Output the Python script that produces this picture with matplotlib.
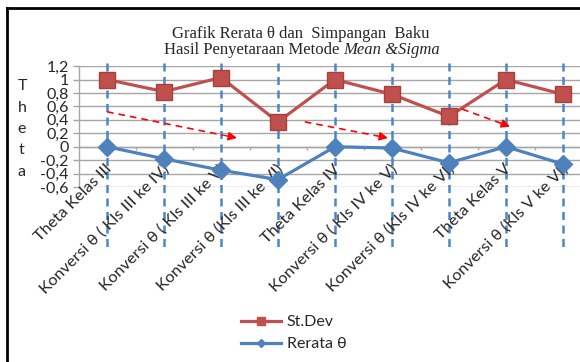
import matplotlib
matplotlib.use("Agg")
import matplotlib.pyplot as plt
from matplotlib.lines import Line2D

# Categories and the two series
categories = [
    "Theta Kelas III",
    "Konversi θ ( Kls III ke IV)",
    "Konversi θ ( Kls III ke V)",
    "Konversi θ (Kls III ke VI)",
    "Theta Kelas IV",
    "Konversi θ ( Kls IV ke V)",
    "Konversi θ (Kls IV ke VI)",
    "Theta Kelas V",
    "Konversi θ (Kls V ke VI)",
]
st_dev = [1.00, 0.82, 1.03, 0.37, 1.00, 0.78, 0.45, 1.00, 0.78]
rerata = [0.00, -0.18, -0.35, -0.49, 0.00, -0.02, -0.24, 0.00, -0.26]

y_ticks = [-0.6, -0.4, -0.2, 0, 0.2, 0.4, 0.6, 0.8, 1.0, 1.2]
y_tick_labels = ["-0,6", "-0,4", "-0,2", "0", "0,2", "0,4", "0,6", "0,8", "1", "1,2"]

# Red trend arrows drawn over the chart: (x0, y0, x1, y1)
trend_arrows = [
    (0.00, 0.52, 2.28, 0.13),
    (3.47, 0.37, 4.93, 0.13),
    (6.23, 0.56, 7.07, 0.30),
]

RED = "#C0504D"
RED_EDGE = "#A5403D"
BLUE = "#4F81BD"
GUIDE_BLUE = "#4A86C8"
GRID = "#A6A6A6"
TXT = "#262626"
SANS = ["Lato", "DejaVu Sans"]
SERIF = ["Liberation Serif", "DejaVu Serif"]

W, H = 580, 362
fig = plt.figure(figsize=(W / 100, H / 100), dpi=100)
fig.patch.set_facecolor("white")

# plot area (extends past the right edge of the figure)
x_left, x_right = 78.5, 591.5
y_top, y_bot = 66.1, 187.0
ax = fig.add_axes([x_left / W, 1 - y_bot / H, (x_right - x_left) / W, (y_bot - y_top) / H])
ax.set_xlim(-0.5, len(categories) - 0.5)
ax.set_ylim(-0.6, 1.2)

for s in ("top", "right", "bottom"):
    ax.spines[s].set_visible(False)
ax.spines["left"].set_color(GRID)
ax.spines["left"].set_linewidth(1.0)

ax.set_yticks(y_ticks)
ax.set_yticklabels(y_tick_labels, fontfamily=SANS, fontsize=11.5, color=TXT)
ax.tick_params(axis="y", length=4, color=GRID, width=1.0, pad=3)
ax.yaxis.grid(True, color=GRID, linewidth=1.0)
ax.set_axisbelow(True)

# category axis crossing at zero, with ticks between categories
ax.set_xticks([])
ax.axhline(0, color=GRID, linewidth=1.0, zorder=1)
bounds = [i + 0.5 for i in range(len(categories) - 1)]
ax.vlines(bounds, -0.055, 0, color=GRID, linewidth=1.0, zorder=1)

# category labels hang from the zero axis
for i, lab in enumerate(categories):
    ax.annotate(lab, xy=(i, 0), xytext=(3, -20), textcoords="offset pixels",
                rotation=45, rotation_mode="anchor", ha="right", va="center",
                fontfamily=SANS, fontsize=11.8, color=TXT, annotation_clip=False)

# vertical dashed guide lines at each category
for i in range(len(categories)):
    ax.plot([i, i], [1.245, -1.54], color=GUIDE_BLUE, linewidth=1.8,
            linestyle=(0, (3.2, 2.2)), clip_on=False, zorder=2)

# series
x = list(range(len(categories)))
ax.plot(x, st_dev, color=RED, linewidth=2.3, marker="s", markersize=11.5,
        markerfacecolor=RED, markeredgecolor=RED_EDGE, markeredgewidth=1.0,
        zorder=5, clip_on=False)
ax.plot(x, rerata, color=BLUE, linewidth=2.3, marker="D", markersize=9.5,
        markerfacecolor=BLUE, markeredgecolor=BLUE, zorder=5, clip_on=False)

# red dashed trend arrows
for x0, y0, x1, y1 in trend_arrows:
    fx = x0 + (x1 - x0) * 0.88
    fy = y0 + (y1 - y0) * 0.88
    ax.plot([x0, fx], [y0, fy], color="red", linewidth=1.2,
            linestyle=(0, (4, 3)), zorder=6)
    ax.annotate("", xy=(x1, y1), xytext=(fx, fy),
                arrowprops=dict(arrowstyle="-|>", color="red", lw=1.0,
                                mutation_scale=13, shrinkA=0, shrinkB=0),
                zorder=6)

# vertical axis title, one letter per line
fig.text(22 / W, 1 - 129 / H, "T\nh\ne\nt\na", ha="center", va="center",
         fontfamily=SANS, fontsize=11.5, color=TXT, linespacing=1.68)

# chart title (second line mixes upright and italic)
fig.text(301 / W, 1 - 34 / H, "Grafik Rerata θ dan  Simpangan  Baku",
         ha="center", va="center", fontfamily=SERIF, fontsize=12, color=TXT)
renderer = fig.canvas.get_renderer()
t_reg = fig.text(0, 1 - 50 / H, "Hasil Penyetaraan Metode ", ha="left", va="center",
                 fontfamily=SERIF, fontsize=12, color=TXT)
t_it = fig.text(0, 1 - 50 / H, "Mean &Sigma", ha="left", va="center",
                fontfamily=SERIF, fontsize=12, style="italic", color=TXT)
w_reg = t_reg.get_window_extent(renderer).width
w_it = t_it.get_window_extent(renderer).width
start = 302 - (w_reg + w_it) / 2
t_reg.set_x(start / W)
t_it.set_x((start + w_reg) / W)

# legend
handles = [
    Line2D([], [], color=RED, linewidth=2.3, marker="s", markersize=6,
           markerfacecolor=RED, markeredgecolor=RED),
    Line2D([], [], color=BLUE, linewidth=2.3, marker="D", markersize=4.5,
           markerfacecolor=BLUE, markeredgecolor=BLUE),
]
fig.legend(handles, ["St.Dev", "Rerata θ"], loc="upper left",
           bbox_to_anchor=(241 / W, 1 - 315 / H), frameon=False,
           prop={"family": SANS, "size": 11.5}, handlelength=2.5,
           handletextpad=0.35, labelspacing=0.5, numpoints=1,
           borderpad=0, borderaxespad=0, labelcolor=TXT)

# outer frame (top and left edges visible)
fig.add_artist(Line2D([7 / W, 1.0], [1 - 8 / H, 1 - 8 / H], color="black",
                      linewidth=2.0, transform=fig.transFigure))
fig.add_artist(Line2D([7 / W, 7 / W], [0, 1 - 8 / H], color="black",
                      linewidth=2.0, transform=fig.transFigure))

fig.savefig("out.png", dpi=100, facecolor="white")
